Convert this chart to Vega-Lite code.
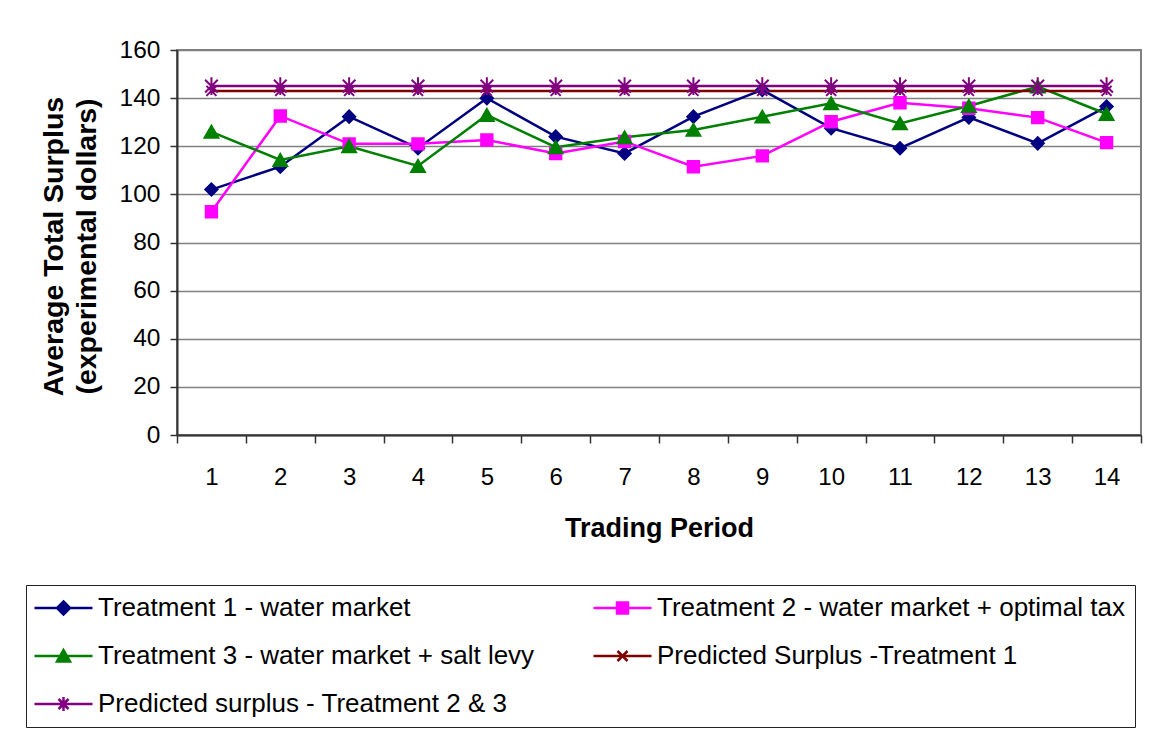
{
  "$schema": "https://vega.github.io/schema/vega-lite/v6.json",
  "autosize": {"type": "none"},
  "width": 964,
  "height": 385,
  "padding": {"left": 177, "top": 50, "right": 14, "bottom": 297},
  "background": "white",
  "config": {
    "font": "Liberation Sans",
    "view": {"stroke": "#808080", "strokeWidth": 2},
    "axis": {
      "labelFont": "Liberation Sans",
      "titleFont": "Liberation Sans",
      "labelColor": "black",
      "titleColor": "black",
      "domainColor": "#333333",
      "domainWidth": 2,
      "tickColor": "#333333",
      "tickWidth": 1.5
    }
  },
  "data": {
    "values": [
      {"period": 1, "series": "Treatment 1 - water market", "value": 102},
      {"period": 2, "series": "Treatment 1 - water market", "value": 111.5},
      {"period": 3, "series": "Treatment 1 - water market", "value": 132.3},
      {"period": 4, "series": "Treatment 1 - water market", "value": 119.2},
      {"period": 5, "series": "Treatment 1 - water market", "value": 140},
      {"period": 6, "series": "Treatment 1 - water market", "value": 124},
      {"period": 7, "series": "Treatment 1 - water market", "value": 117},
      {"period": 8, "series": "Treatment 1 - water market", "value": 132.3},
      {"period": 9, "series": "Treatment 1 - water market", "value": 143.4},
      {"period": 10, "series": "Treatment 1 - water market", "value": 127.5},
      {"period": 11, "series": "Treatment 1 - water market", "value": 119.2},
      {"period": 12, "series": "Treatment 1 - water market", "value": 132},
      {"period": 13, "series": "Treatment 1 - water market", "value": 121.2},
      {"period": 14, "series": "Treatment 1 - water market", "value": 136.5},
      {"period": 1, "series": "Treatment 2 - water market + optimal tax", "value": 92.8},
      {"period": 2, "series": "Treatment 2 - water market + optimal tax", "value": 132.6},
      {"period": 3, "series": "Treatment 2 - water market + optimal tax", "value": 121},
      {"period": 4, "series": "Treatment 2 - water market + optimal tax", "value": 121},
      {"period": 5, "series": "Treatment 2 - water market + optimal tax", "value": 122.6},
      {"period": 6, "series": "Treatment 2 - water market + optimal tax", "value": 117},
      {"period": 7, "series": "Treatment 2 - water market + optimal tax", "value": 122},
      {"period": 8, "series": "Treatment 2 - water market + optimal tax", "value": 111.5},
      {"period": 9, "series": "Treatment 2 - water market + optimal tax", "value": 116},
      {"period": 10, "series": "Treatment 2 - water market + optimal tax", "value": 130.2},
      {"period": 11, "series": "Treatment 2 - water market + optimal tax", "value": 138.1},
      {"period": 12, "series": "Treatment 2 - water market + optimal tax", "value": 135.8},
      {"period": 13, "series": "Treatment 2 - water market + optimal tax", "value": 131.9},
      {"period": 14, "series": "Treatment 2 - water market + optimal tax", "value": 121.5},
      {"period": 1, "series": "Treatment 3 - water market + salt levy", "value": 126},
      {"period": 2, "series": "Treatment 3 - water market + salt levy", "value": 114.3},
      {"period": 3, "series": "Treatment 3 - water market + salt levy", "value": 120},
      {"period": 4, "series": "Treatment 3 - water market + salt levy", "value": 111.8},
      {"period": 5, "series": "Treatment 3 - water market + salt levy", "value": 133},
      {"period": 6, "series": "Treatment 3 - water market + salt levy", "value": 119.6},
      {"period": 7, "series": "Treatment 3 - water market + salt levy", "value": 123.7},
      {"period": 8, "series": "Treatment 3 - water market + salt levy", "value": 126.8},
      {"period": 9, "series": "Treatment 3 - water market + salt levy", "value": 132.3},
      {"period": 10, "series": "Treatment 3 - water market + salt levy", "value": 137.9},
      {"period": 11, "series": "Treatment 3 - water market + salt levy", "value": 129.5},
      {"period": 12, "series": "Treatment 3 - water market + salt levy", "value": 136.7},
      {"period": 13, "series": "Treatment 3 - water market + salt levy", "value": 144.8},
      {"period": 14, "series": "Treatment 3 - water market + salt levy", "value": 133.4},
      {"period": 1, "series": "Predicted Surplus -Treatment 1", "value": 143},
      {"period": 2, "series": "Predicted Surplus -Treatment 1", "value": 143},
      {"period": 3, "series": "Predicted Surplus -Treatment 1", "value": 143},
      {"period": 4, "series": "Predicted Surplus -Treatment 1", "value": 143},
      {"period": 5, "series": "Predicted Surplus -Treatment 1", "value": 143},
      {"period": 6, "series": "Predicted Surplus -Treatment 1", "value": 143},
      {"period": 7, "series": "Predicted Surplus -Treatment 1", "value": 143},
      {"period": 8, "series": "Predicted Surplus -Treatment 1", "value": 143},
      {"period": 9, "series": "Predicted Surplus -Treatment 1", "value": 143},
      {"period": 10, "series": "Predicted Surplus -Treatment 1", "value": 143},
      {"period": 11, "series": "Predicted Surplus -Treatment 1", "value": 143},
      {"period": 12, "series": "Predicted Surplus -Treatment 1", "value": 143},
      {"period": 13, "series": "Predicted Surplus -Treatment 1", "value": 143},
      {"period": 14, "series": "Predicted Surplus -Treatment 1", "value": 143},
      {"period": 1, "series": "Predicted surplus - Treatment 2 & 3", "value": 145},
      {"period": 2, "series": "Predicted surplus - Treatment 2 & 3", "value": 145},
      {"period": 3, "series": "Predicted surplus - Treatment 2 & 3", "value": 145},
      {"period": 4, "series": "Predicted surplus - Treatment 2 & 3", "value": 145},
      {"period": 5, "series": "Predicted surplus - Treatment 2 & 3", "value": 145},
      {"period": 6, "series": "Predicted surplus - Treatment 2 & 3", "value": 145},
      {"period": 7, "series": "Predicted surplus - Treatment 2 & 3", "value": 145},
      {"period": 8, "series": "Predicted surplus - Treatment 2 & 3", "value": 145},
      {"period": 9, "series": "Predicted surplus - Treatment 2 & 3", "value": 145},
      {"period": 10, "series": "Predicted surplus - Treatment 2 & 3", "value": 145},
      {"period": 11, "series": "Predicted surplus - Treatment 2 & 3", "value": 145},
      {"period": 12, "series": "Predicted surplus - Treatment 2 & 3", "value": 145},
      {"period": 13, "series": "Predicted surplus - Treatment 2 & 3", "value": 145},
      {"period": 14, "series": "Predicted surplus - Treatment 2 & 3", "value": 145}
    ]
  },
  "encoding": {
    "x": {
      "field": "period",
      "type": "ordinal",
      "bandPosition": 0.5,
      "scale": {"type": "band", "paddingInner": 0, "paddingOuter": 0},
      "axis": {
        "title": "Trading Period",
        "titleFontSize": 27,
        "titleFontWeight": "bold",
        "titleY": 93,
        "titleBaseline": "middle",
        "labelFontSize": 24,
        "labelAngle": 0,
        "labelPadding": 22,
        "tickBand": "extent",
        "tickSize": 8
      }
    },
    "y": {
      "field": "value",
      "type": "quantitative",
      "scale": {"domain": [0, 160], "nice": false},
      "axis": {
        "title": ["Average Total Surplus", "(experimental dollars)"],
        "titleFontSize": 28.5,
        "titleFontWeight": "bold",
        "titleLineHeight": 33,
        "titleX": -124,
        "titleY": 196,
        "titleAngle": -90,
        "titleAlign": "center",
        "titleBaseline": "middle",
        "values": [0, 20, 40, 60, 80, 100, 120, 140, 160],
        "labelFontSize": 24.5,
        "labelPadding": 10,
        "tickSize": 7,
        "grid": true,
        "gridColor": "#808080",
        "gridWidth": 1.5
      }
    }
  },
  "layer": [
    {
      "mark": {"type": "line", "strokeWidth": 2.5},
      "encoding": {
        "color": {
          "field": "series",
          "type": "nominal",
          "scale": {
            "domain": [
              "Treatment 1 - water market",
              "Treatment 2 - water market + optimal tax",
              "Treatment 3 - water market + salt levy",
              "Predicted Surplus -Treatment 1",
              "Predicted surplus - Treatment 2 & 3"
            ],
            "range": ["#000080", "#FF00FF", "#008000", "#800000", "#800080"]
          },
          "legend": {
            "title": null,
            "orient": "none",
            "direction": "horizontal",
            "legendX": -151,
            "legendY": 535,
            "columns": 2,
            "columnPadding": 53,
            "rowPadding": 22,
            "padding": 10,
            "strokeColor": "#222222",
            "fillColor": "white",
            "labelFont": "Liberation Sans",
            "labelFontSize": 26,
            "labelColor": "black",
            "labelLimit": 0,
            "symbolSize": 100,
            "symbolOffset": 14.5,
            "labelOffset": 21.5,
            "symbolStrokeWidth": 2.5
          }
        }
      }
    },
    {
      "description": "Key symbols only: a short line with the series marker on it; no points of its own are drawn.",
      "transform": [{"filter": {"field": "value", "lt": 0}}],
      "mark": {"type": "point", "filled": true, "opacity": 1, "strokeWidth": 2.5},
      "encoding": {
        "stroke": {"field": "series", "type": "nominal", "scale": {"domain": [
          "Treatment 1 - water market",
          "Treatment 2 - water market + optimal tax",
          "Treatment 3 - water market + salt levy",
          "Predicted Surplus -Treatment 1",
          "Predicted surplus - Treatment 2 & 3"
        ], "range": ["#000080", "#FF00FF", "#008000", "#800000", "#800080"]}, "legend": null},
        "fill": {"field": "series", "type": "nominal", "scale": {"domain": [
          "Treatment 1 - water market",
          "Treatment 2 - water market + optimal tax",
          "Treatment 3 - water market + salt levy",
          "Predicted Surplus -Treatment 1",
          "Predicted surplus - Treatment 2 & 3"
        ], "range": ["#000080", "#FF00FF", "#008000", "#800000", "#800080"]}, "legend": null},
        "shape": {
          "field": "series",
          "type": "nominal",
          "scale": {
            "domain": [
              "Treatment 1 - water market",
              "Treatment 2 - water market + optimal tax",
              "Treatment 3 - water market + salt levy",
              "Predicted Surplus -Treatment 1",
              "Predicted surplus - Treatment 2 & 3"
            ],
            "range": [
              "M-5.8,0H5.8M0,-1.3L1.3,0L0,1.3L-1.3,0Z",
              "M-5.8,0H5.8M-1.1,-1.1H1.1V1.1H-1.1Z",
              "M-5.8,0H5.8M0,-1.2L1.3,1.1L-1.3,1.1Z",
              "M-5.8,0H5.8M-1,-1L1,1M-1,1L1,-1",
              "M-5.8,0H5.8M-1,-1L1,1M-1,1L1,-1M0,-1.4V1.4"
            ]
          },
          "legend": null
        }
      }
    },
    {
      "transform": [{"filter": {"field": "series", "equal": "Treatment 1 - water market"}}],
      "mark": {"type": "point", "shape": "diamond", "filled": true, "opacity": 1, "fill": "#000080", "stroke": "#000080", "strokeWidth": 2, "size": 150}
    },
    {
      "transform": [{"filter": {"field": "series", "equal": "Treatment 2 - water market + optimal tax"}}],
      "mark": {"type": "point", "shape": "square", "filled": true, "opacity": 1, "fill": "#FF00FF", "stroke": "#FF00FF", "strokeWidth": 2, "size": 130}
    },
    {
      "transform": [{"filter": {"field": "series", "equal": "Treatment 3 - water market + salt levy"}}],
      "mark": {"type": "point", "shape": "triangle-up", "filled": true, "opacity": 1, "fill": "#008000", "stroke": "#008000", "strokeWidth": 2, "size": 190}
    },
    {
      "transform": [{"filter": {"field": "series", "equal": "Predicted Surplus -Treatment 1"}}],
      "mark": {"type": "point", "shape": "M-1,-1L1,1M-1,1L1,-1", "filled": false, "opacity": 1, "stroke": "#800080", "strokeWidth": 2, "size": 100}
    },
    {
      "transform": [{"filter": {"field": "series", "equal": "Predicted surplus - Treatment 2 & 3"}}],
      "mark": {"type": "point", "shape": "M-1,-1L1,1M-1,1L1,-1M0,-1.4V1.4", "filled": false, "opacity": 1, "stroke": "#800080", "strokeWidth": 2, "size": 160}
    }
  ]
}
